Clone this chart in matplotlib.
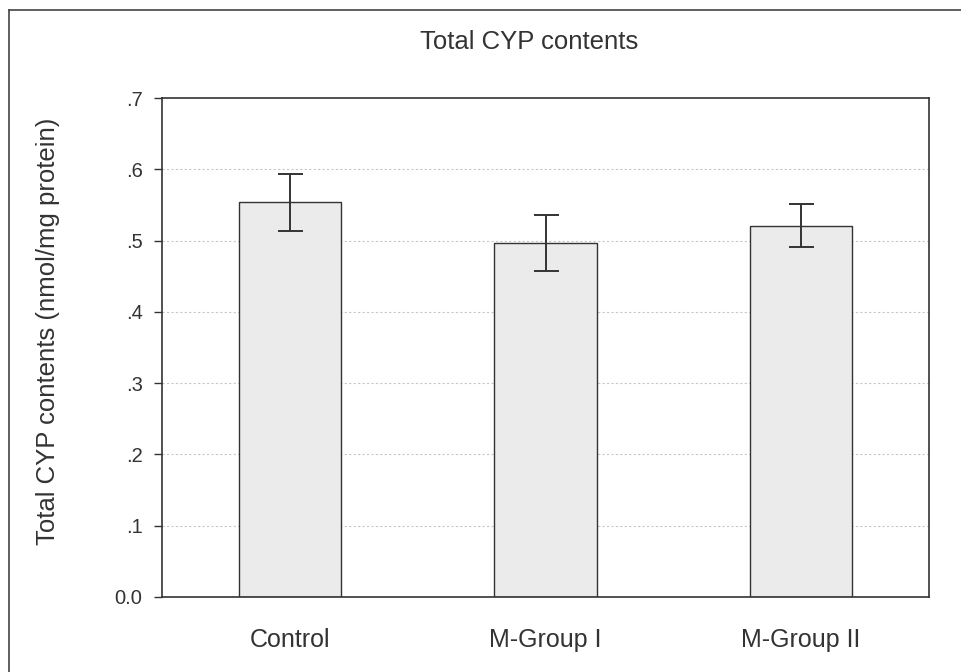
import matplotlib
matplotlib.use("Agg")
import matplotlib.pyplot as plt
from matplotlib.lines import Line2D

plt.rcParams['font.family'] = ['Liberation Sans', 'DejaVu Sans']

# values
groups = ['Control', 'M-Group I', 'M-Group II']
means = [0.554, 0.497, 0.521]
errors = [0.040, 0.039, 0.030]
yticks = [0.0, 0.1, 0.2, 0.3, 0.4, 0.5, 0.6, 0.7]
ytick_labels = ['0.0', '.1', '.2', '.3', '.4', '.5', '.6', '.7']

text_col = '#333333'
edge_col = '#333333'

fig = plt.figure(figsize=(9.61, 6.72), dpi=100)
ax = fig.add_axes([162 / 961, 1 - 597 / 672, (929 - 162) / 961, (597 - 98) / 672])

x = range(len(groups))
ax.bar(x, means, width=0.4, color='#ebebeb', edgecolor=edge_col, linewidth=1.0, zorder=2)
ax.errorbar(x, means, yerr=errors, fmt='none', ecolor=edge_col, elinewidth=1.4,
            capsize=9, capthick=1.4, zorder=3)

ax.set_xlim(-0.5, 2.5)
ax.set_ylim(0, 0.7)
ax.set_yticks(yticks)
ax.set_yticklabels(ytick_labels, color=text_col, fontsize=14.5)
ax.set_xticks(list(x))
ax.set_xticklabels(groups, color=text_col, fontsize=18)
ax.tick_params(axis='x', length=0, pad=22)
ax.tick_params(axis='y', length=6, width=1, color=edge_col, pad=8)

for y in yticks[1:-1]:
    ax.axhline(y, color='#c8c8c8', linewidth=0.8, linestyle=(0, (2, 2)), zorder=1)

for s in ax.spines.values():
    s.set_color(edge_col)
    s.set_linewidth(1.2)

ax.set_ylabel('Total CYP contents (nmol/mg protein)', fontsize=18.5, color=text_col)
ax.yaxis.set_label_coords(-0.133, 0.533)
fig.text(529 / 961, 1 - 42 / 672, 'Total CYP contents', ha='center', va='center',
         fontsize=18.5, color=text_col)

# outer frame (top and left edges visible in the scan)
fig.add_artist(Line2D([9 / 961, 1.0], [1 - 10 / 672, 1 - 10 / 672], transform=fig.transFigure,
                      color='#444444', linewidth=1.2))
fig.add_artist(Line2D([9 / 961, 9 / 961], [0.0, 1 - 10 / 672], transform=fig.transFigure,
                      color='#444444', linewidth=1.2))

fig.savefig('out.png', dpi=100)
